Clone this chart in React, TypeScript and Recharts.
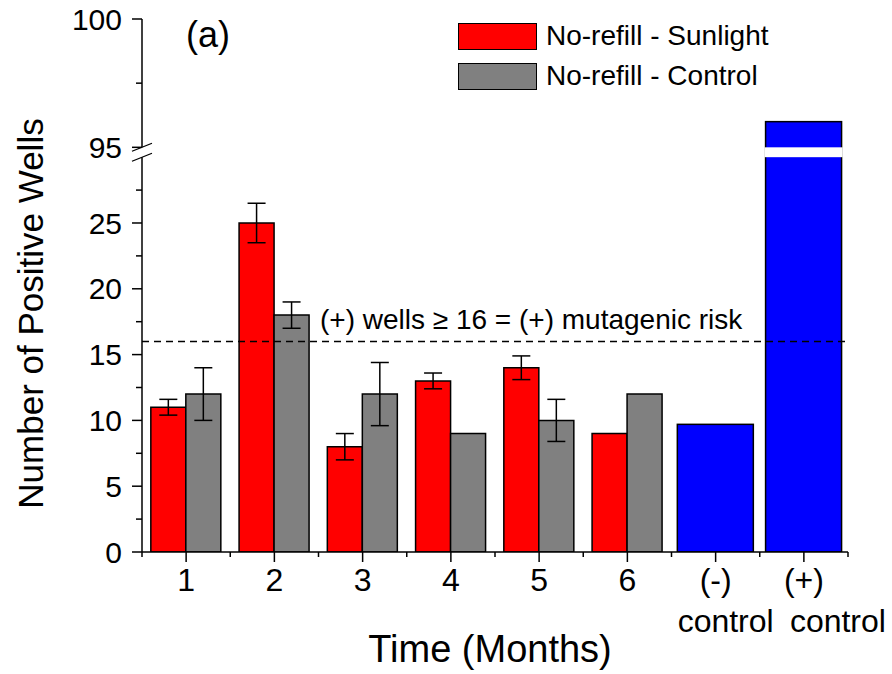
import React from 'react';
import { BarChart, Bar, XAxis, YAxis, ErrorBar, ReferenceLine, Legend, Label } from 'recharts';

const FONT = '"Liberation Sans", Arial, sans-serif';

// categories and readings (number of positive wells)
const categories = ['1', '2', '3', '4', '5', '6', '(-) control', '(+) control'];
const sunlight = [11, 25, 8, 13, 14, 9, null, null];
const sunlightErr = [0.6, 1.5, 1.0, 0.6, 0.9, null, null, null];
const control = [12, 18, 12, 9, 10, 12, null, null];
const controlErr = [2.0, 1.0, 2.4, null, 1.6, null, null, null];
const controls = [null, null, null, null, null, null, 9.7, 96];

const legendOrder = ['No-refill - Sunlight', 'No-refill - Control'];

const yMajor = [0, 5, 10, 15, 20, 25, 95, 100];
const yMinor = [2.5, 7.5, 12.5, 17.5, 22.5, 27.5, 97.5];
const threshold = 16;

// broken axis: 0..30 linear, then a small gap, then 95..100 stretched
const BREAK_LOW = 30;
const BREAK_HIGH = 95;
const GAP = 0.75;
const UPPER_SCALE = 1.95;
const toDisplay = (v: number | null) => {
  if (v == null) return null;
  if (v <= BREAK_LOW) return v;
  return BREAK_LOW + GAP + (v - BREAK_HIGH) * UPPER_SCALE;
};
const Y_MAX = toDisplay(100) as number;
const BREAK_MARK = BREAK_LOW + GAP / 2;

const CHART_W = 892;
const CHART_H = 674;
const MARGIN = { top: 19, right: 44, bottom: 0, left: 0 };
const Y_AXIS_W = 142;
const X_AXIS_H = 122;
const PLOT_W = CHART_W - MARGIN.left - MARGIN.right - Y_AXIS_W;
const PLOT_H = CHART_H - MARGIN.top - MARGIN.bottom - X_AXIS_H;

const data = categories.map((name, i) => ({
  name,
  sun: sunlight[i],
  sunErr: sunlightErr[i],
  ctl: control[i],
  ctlErr: controlErr[i],
  blue: toDisplay(controls[i]),
  blueRaw: controls[i],
}));

const yMajorDisplay = yMajor.map((v) => toDisplay(v) as number);
const yTicks = [...yMajorDisplay, ...yMinor.map((v) => toDisplay(v) as number), BREAK_MARK].sort((a, b) => a - b);

const ControlShape = (props: any) => {
  const { x, y, width, height, fill, payload } = props;
  if (!height || height <= 0 || payload.blueRaw == null) return null;
  const left = x - 3;
  const w = width * 2 + 6; // one wide bar over both slots of the group
  const bottom = y + height;
  const ppu = height / payload.blue;
  return (
    <g>
      <rect x={left} y={y} width={w} height={height} fill={fill} stroke="#000" strokeWidth={1.5} />
      {payload.blueRaw > BREAK_HIGH && (
        <rect
          x={left - 1}
          y={bottom - (BREAK_LOW + GAP) * ppu}
          width={w + 2}
          height={GAP * ppu}
          fill="#fff"
        />
      )}
    </g>
  );
};

const YTick = (props: any) => {
  const { x, y, payload } = props;
  const v = payload.value;
  if (Math.abs(v - BREAK_MARK) < 1e-6) {
    const g = (GAP * PLOT_H) / Y_MAX;
    return (
      <g>
        <rect x={x - 4} y={y - g / 2} width={8} height={g} fill="#fff" />
        <line x1={x - 10} y1={y - g / 2 + 4} x2={x + 10} y2={y - g / 2 - 4} stroke="#000" strokeWidth={1.2} />
        <line x1={x - 10} y1={y + g / 2 + 4} x2={x + 10} y2={y + g / 2 - 4} stroke="#000" strokeWidth={1.2} />
      </g>
    );
  }
  const idx = yMajorDisplay.findIndex((d) => Math.abs(d - v) < 1e-6);
  if (idx >= 0) {
    return (
      <g>
        <line x1={x - 10} y1={y} x2={x} y2={y} stroke="#000" strokeWidth={1.5} />
        <text x={x - 20} y={y} dy="0.355em" textAnchor="end" fontSize={30} fill="#000" fontFamily={FONT}>
          {yMajor[idx]}
        </text>
      </g>
    );
  }
  return <line x1={x - 6} y1={y} x2={x} y2={y} stroke="#000" strokeWidth={1.5} />;
};

const XTick = (props: any) => {
  const { x, y, payload } = props;
  const band = PLOT_W / categories.length;
  const [l1, l2] = String(payload.value).split(' ');
  const last = payload.index === categories.length - 1;
  // second line words sit a little right of the tick, as in the original
  const l2x = last ? x - 14 : x - 38;
  return (
    <g>
      <line x1={x} y1={y} x2={x} y2={y + 10} stroke="#000" strokeWidth={1.5} />
      <line x1={x - band / 2} y1={y} x2={x - band / 2} y2={y + 5} stroke="#000" strokeWidth={1.5} />
      {last && <line x1={x + band / 2} y1={y} x2={x + band / 2} y2={y + 5} stroke="#000" strokeWidth={1.5} />}
      <text x={x} y={y + 39} textAnchor="middle" fontSize={32} fill="#000" fontFamily={FONT}>
        {l1}
      </text>
      {l2 && (
        <text x={l2x} y={y + 80} textAnchor="start" fontSize={32} fill="#000" fontFamily={FONT}>
          {l2}
        </text>
      )}
    </g>
  );
};

const YTitle = (props: any) => {
  const vb = props.viewBox;
  const cx = vb.x + 30;
  const cy = vb.y + vb.height / 2 + 28;
  return (
    <text
      x={cx}
      y={cy}
      transform={`rotate(-90, ${cx}, ${cy})`}
      textAnchor="middle"
      dominantBaseline="central"
      fontSize={35}
      fill="#000"
      fontFamily={FONT}
    >
      Number of Positive Wells
    </text>
  );
};

const XTitle = (props: any) => {
  const vb = props.viewBox;
  return (
    <text x={vb.x + vb.width / 2 - 5} y={vb.y + 110} textAnchor="middle" fontSize={38} fill="#000" fontFamily={FONT}>
      Time (Months)
    </text>
  );
};

const RiskLabel = (props: any) => {
  const vb = props.viewBox;
  return (
    <text x={vb.x + 178} y={vb.y - 12} fontSize={28} fill="#000" fontFamily={FONT}>
      (+) wells ≥ 16 = (+) mutagenic risk
    </text>
  );
};

const LegendBox = ({ payload }: any) => {
  const items = (payload || [])
    .filter((p: any) => legendOrder.includes(p.value))
    .sort((a: any, b: any) => legendOrder.indexOf(a.value) - legendOrder.indexOf(b.value));
  return (
    <div style={{ fontFamily: FONT, fontSize: 28, color: '#000' }}>
      {items.map((p: any) => (
        <div key={p.value} style={{ display: 'flex', alignItems: 'center', height: 40 }}>
          <span
            style={{
              display: 'inline-block',
              width: 79,
              height: 27,
              background: p.color,
              border: '1.5px solid #000',
              boxSizing: 'border-box',
              marginRight: 9,
            }}
          />
          <span>{p.value}</span>
        </div>
      ))}
    </div>
  );
};

export default function App() {
  return (
    <div style={{ position: 'absolute', left: 0, top: 0, width: CHART_W, height: CHART_H, background: '#fff', fontFamily: FONT }}>
      <BarChart
        width={CHART_W}
        height={CHART_H}
        data={data}
        margin={MARGIN}
        barCategoryGap="10%"
        barGap={0}
      >
        <XAxis
          dataKey="name"
          type="category"
          interval={0}
          height={X_AXIS_H}
          axisLine={{ stroke: '#000', strokeWidth: 1.5 }}
          tickLine={false}
          tickSize={0}
          tickMargin={0}
          tick={XTick}
        >
          <Label content={XTitle} />
        </XAxis>
        <YAxis
          type="number"
          domain={[0, Y_MAX]}
          ticks={yTicks}
          interval={0}
          width={Y_AXIS_W}
          axisLine={{ stroke: '#000', strokeWidth: 1.5 }}
          tickLine={false}
          tickSize={0}
          tickMargin={0}
          tick={YTick}
          allowDataOverflow
        >
          <Label content={YTitle} />
        </YAxis>
        <Legend
          layout="vertical"
          align="center"
          verticalAlign="middle"
          content={LegendBox}
          wrapperStyle={{ left: 458, top: 16, width: 340, height: 80 }}
        />
        <Bar dataKey="sun" name="No-refill - Sunlight" stackId="a" fill="#ff0000" stroke="#000" strokeWidth={1.5} isAnimationActive={false}>
          <ErrorBar dataKey="sunErr" width={9} stroke="#000" strokeWidth={1.5} />
        </Bar>
        <Bar dataKey="ctl" name="No-refill - Control" fill="#808080" stroke="#000" strokeWidth={1.5} isAnimationActive={false}>
          <ErrorBar dataKey="ctlErr" width={9} stroke="#000" strokeWidth={1.5} />
        </Bar>
        <Bar dataKey="blue" name="controls" stackId="a" fill="#0000ff" legendType="none" shape={ControlShape} isAnimationActive={false} />
        <ReferenceLine y={threshold} stroke="#000" strokeWidth={1.5} strokeDasharray="7 5" label={RiskLabel} />
      </BarChart>
      <div style={{ position: 'absolute', left: 186, top: 17, fontSize: 36, lineHeight: 1, color: '#000', fontFamily: FONT }}>
        (a)
      </div>
    </div>
  );
}
